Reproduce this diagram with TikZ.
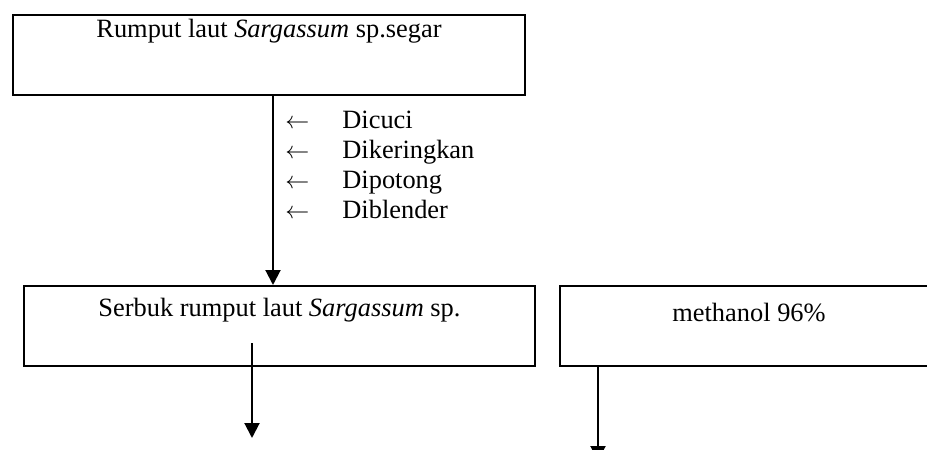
\documentclass[tikz,border=0pt]{standalone}
\usepackage{fontspec}
\setmainfont{Liberation Serif}
\usetikzlibrary{arrows.meta}
\tikzset{
  kotak/.style={draw, line width=1pt, inner sep=0pt, anchor=north west},
  panah/.style={-{Triangle[length=7.5pt,width=7.5pt]}, line width=1pt},
  langkah/.style={inner sep=0pt, anchor=base west},
}
\begin{document}
\begin{tikzpicture}[x=0.5pt, y=-0.5pt, font=\fontsize{13.2}{15}\selectfont]
    \clip (0,0) rectangle (927,450);
    % kotak bahan
    \path (12,14) node[kotak, minimum width=256pt, minimum height=40pt,
       text height=11pt, text depth=29pt] (segar) {Rumput laut \textit{Sargassum} sp.segar};
    \path (23,285) node[kotak, minimum width=255.5pt, minimum height=40pt,
       text height=15pt, text depth=25pt] (serbuk) {Serbuk rumput laut \textit{Sargassum} sp.};
    \path (559,285) node[kotak, minimum width=189pt, minimum height=40pt,
       text height=17.5pt, text depth=22.5pt] (metanol) {methanol 96\%};
    % perlakuan
    \foreach \txt [count=\i] in {Dicuci,Dikeringkan,Dipotong,Diblender}
      \path (285,98+30*\i) node[langkah] (p\i) {\makebox[28.5pt][l]{$\leftarrow$}\txt};
    \draw[panah] ([xshift=2pt]segar.south) -- ([xshift=2pt]segar.south |- serbuk.north);
    \coordinate (s1) at (252,343);
    \coordinate (s2) at (252,438);
    \draw[panah] (s1) -- (s2);
    \coordinate (m1) at (598,461);
    \draw[panah] (m1 |- metanol.south) -- (m1);
\end{tikzpicture}
\end{document}
